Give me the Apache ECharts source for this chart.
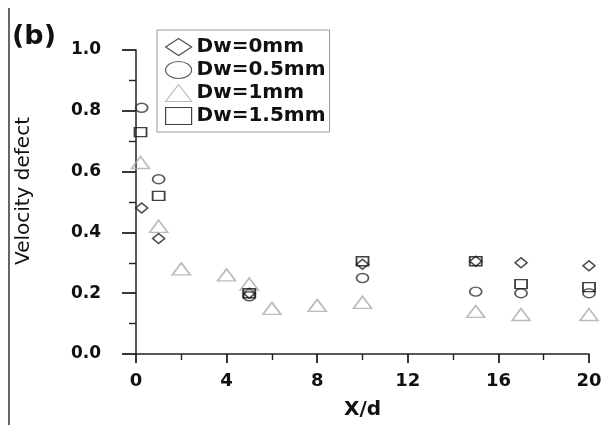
<!DOCTYPE html>
<html>
<head>
<meta charset="utf-8">
<script src="https://cdn.jsdelivr.net/npm/echarts@6/dist/echarts.min.js"></script>
<style>html,body{margin:0;padding:0;background:#fff;}#c{width:606px;height:425px;}</style>
</head>
<body>
<div id="c"></div>
<script>
var seriesNames = ['Dw=0mm', 'Dw=0.5mm', 'Dw=1mm', 'Dw=1.5mm'];
var dw0 = [[0.25,0.48],[1,0.38],[5,0.20],[10,0.295],[15,0.305],[17,0.30],[20,0.29]];
var dw05 = [[0.25,0.81],[1,0.575],[5,0.19],[10,0.25],[15,0.205],[17,0.20],[20,0.20]];
var dw1 = [[0.2,0.63],[1,0.42],[2,0.28],[4,0.26],[5,0.23],[6,0.15],[8,0.16],[10,0.17],[15,0.14],[17,0.13],[20,0.13]];
var dw15 = [[0.2,0.73],[1,0.52],[5,0.20],[10,0.305],[15,0.305],[17,0.23],[20,0.22]];
var xTicks = [0, 4, 8, 12, 16, 20];
var yTicks = [0.0, 0.2, 0.4, 0.6, 0.8, 1.0];

var ELLIPSE = 'path://M1,0 C1,0.5523 0.5523,1 0,1 C-0.5523,1 -1,0.5523 -1,0 C-1,-0.5523 -0.5523,-1 0,-1 C0.5523,-1 1,-0.5523 1,0 Z';

var chart = echarts.init(document.getElementById('c'), null, {renderer: 'canvas'});
var FONT = 'DejaVu Sans';
function mk(name, data, symbol, size, color) {
  return {
    name: name, type: 'scatter', data: data, symbol: symbol, symbolSize: size,
    symbolKeepAspect: false,
    itemStyle: {color: 'rgba(255,255,255,0)', borderColor: color, borderWidth: 1.6},
    emphasis: {disabled: true}, z: 3
  };
}
chart.setOption({
  animation: false,
  backgroundColor: '#fff',
  grid: {left: 136, right: 17, top: 50, bottom: 70},
  legend: {
    orient: 'vertical', left: 157, top: 30,
    data: [
      {name: seriesNames[0], icon: 'diamond'},
      {name: seriesNames[1], icon: ELLIPSE},
      {name: seriesNames[2], icon: 'triangle'},
      {name: seriesNames[3], icon: 'rect'}
    ],
    symbolKeepAspect: false,
    itemWidth: 26, itemHeight: 17, itemGap: 3,
    padding: [7, 4, 6, 8],
    borderColor: '#999', borderWidth: 1, backgroundColor: '#fff',
    selectedMode: false,
    itemStyle: {borderWidth: 1.2},
    textStyle: {fontFamily: FONT, fontWeight: 'bold', fontSize: 20, color: '#111', lineHeight: 20}
  },
  xAxis: {
    type: 'value', min: 0, max: 20, interval: 4, offset: 4,
    name: 'X/d', nameLocation: 'middle', nameGap: 42,
    nameTextStyle: {fontFamily: FONT, fontWeight: 'bold', fontSize: 20, color: '#111'},
    axisLine: {lineStyle: {color: '#222', width: 1.5}},
    axisTick: {show: true, inside: false, length: 9, lineStyle: {color: '#222', width: 1.8}},
    minorTick: {show: true, splitNumber: 2, length: 6, lineStyle: {color: '#222', width: 1.4}},
    splitLine: {show: false},
    axisLabel: {fontFamily: FONT, fontWeight: 'bold', fontSize: 18, color: '#111', margin: 14,
      formatter: function (v) { return xTicks.indexOf(v) >= 0 ? String(v) : ''; }}
  },
  yAxis: {
    type: 'value', min: 0, max: 1, interval: 0.2,
    name: 'Velocity defect', nameLocation: 'middle', nameGap: 102, nameRotate: 90,
    nameTextStyle: {fontFamily: FONT, fontSize: 20, color: '#111', padding: [0, 0, 0, 22]},
    axisLine: {show: true, lineStyle: {color: '#222', width: 1.5}},
    axisTick: {show: true, inside: false, length: 14, lineStyle: {color: '#222', width: 1.8}},
    minorTick: {show: true, splitNumber: 2, length: 7, lineStyle: {color: '#222', width: 1.4}},
    splitLine: {show: false},
    axisLabel: {fontFamily: FONT, fontWeight: 'bold', fontSize: 17, color: '#111', margin: 35,
      formatter: function (v) {
        for (var i = 0; i < yTicks.length; i++) { if (Math.abs(yTicks[i] - v) < 1e-6) return yTicks[i].toFixed(1); }
        return '';
      }}
  },
  graphic: [
    {type: 'text', left: 12, top: 23, style: {text: '(b)', fontFamily: FONT, fontWeight: 'bold', fontSize: 27, fill: '#111'}},
    {type: 'line', shape: {x1: 9, y1: 8, x2: 9, y2: 425}, style: {stroke: '#333', lineWidth: 1.5}}
  ],
  series: [
    mk(seriesNames[0], dw0, 'diamond', [12, 10], '#222'),
    mk(seriesNames[1], dw05, ELLIPSE, [12, 9], '#333'),
    mk(seriesNames[2], dw1, 'triangle', [18, 12], '#aaa'),
    mk(seriesNames[3], dw15, 'rect', [12, 9], '#111')
  ]
});
</script>
</body>
</html>
